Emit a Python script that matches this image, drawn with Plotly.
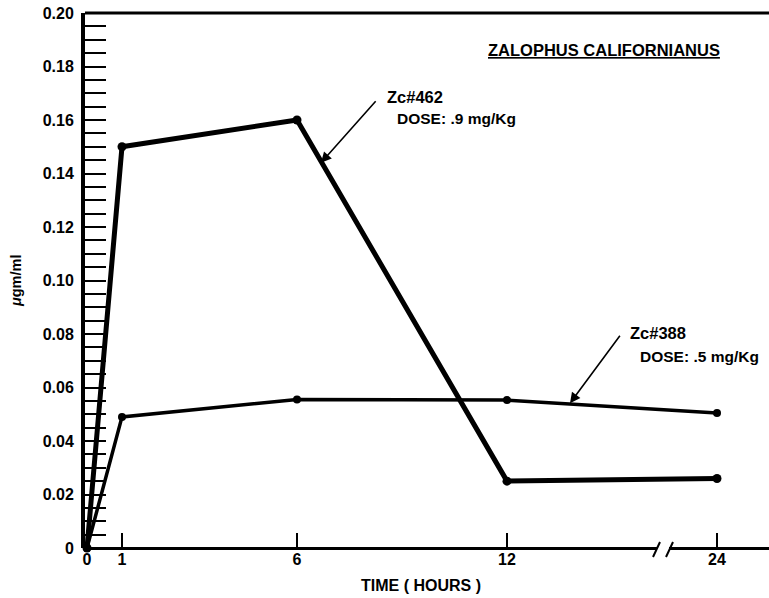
import plotly.graph_objects as go

# ---- data ----
hours = [0, 1, 6, 12, 24]
zc462 = [0.0, 0.150, 0.160, 0.025, 0.026]
zc388 = [0.0, 0.049, 0.0555, 0.0553, 0.0505]
x_tick_hours = [0, 1, 6, 12, 24]
x_tick_labels = ["0", "1", "6", "12", "24"]
y_tick_vals = [0, 0.02, 0.04, 0.06, 0.08, 0.10, 0.12, 0.14, 0.16, 0.18, 0.20]
y_tick_labels = ["0", "0.02", "0.04", "0.06", "0.08", "0.10", "0.12", "0.14", "0.16", "0.18", "0.20"]

BREAK_SHIFT = 6  # axis broken between 12 and 24 h


def xpos(h):
    return h if h <= 12 else h - BREAK_SHIFT


FONT = "Liberation Sans"
W, H = 769, 598
ML, MR, MT, MB = 85, 0, 13, 50
PX_PER_H = 35.0
X0 = -2 / PX_PER_H
X1 = X0 + (W - ML - MR) / PX_PER_H

fig = go.Figure()
fig.add_trace(go.Scatter(
    x=[xpos(h) for h in hours], y=zc388, mode="lines+markers",
    line=dict(color="black", width=3.5), marker=dict(color="black", size=8),
    cliponaxis=False, showlegend=False))
fig.add_trace(go.Scatter(
    x=[xpos(h) for h in hours], y=zc462, mode="lines+markers",
    line=dict(color="black", width=5), marker=dict(color="black", size=9),
    cliponaxis=False, showlegend=False))

pw = W - ML - MR
ph = H - MT - MB


def px_to_paper_x(px):
    return (px - ML) / pw


def py_to_paper_y(py):
    return (H - MB - py) / ph


shapes = []
# top border
shapes.append(dict(type="line", xref="paper", yref="paper", x0=0, x1=1, y0=1, y1=1,
                   line=dict(color="black", width=3)))
# x axis with break
shapes.append(dict(type="line", xref="paper", yref="paper", x0=0, x1=px_to_paper_x(657),
                   y0=py_to_paper_y(548.5), y1=py_to_paper_y(548.5), line=dict(color="black", width=3)))
shapes.append(dict(type="line", xref="paper", yref="paper", x0=px_to_paper_x(669), x1=1,
                   y0=py_to_paper_y(548.5), y1=py_to_paper_y(548.5), line=dict(color="black", width=3)))
for a, b in [(653, 660), (666, 673)]:
    shapes.append(dict(type="line", xref="paper", yref="paper",
                       x0=px_to_paper_x(a), y0=py_to_paper_y(557),
                       x1=px_to_paper_x(b), y1=py_to_paper_y(542),
                       line=dict(color="black", width=2)))

annotations = []
# arrows
annotations.append(dict(x=(321 - 87) / PX_PER_H, y=(548 - 162) / 2680, xref="x", yref="y",
                        ax=56, ay=-63, axref="pixel", ayref="pixel", text="", showarrow=True,
                        arrowhead=2, arrowsize=1.3, arrowwidth=1.6, arrowcolor="black"))
annotations.append(dict(x=(570 - 87) / PX_PER_H, y=(548 - 403) / 2680, xref="x", yref="y",
                        ax=51, ay=-69, axref="pixel", ayref="pixel", text="", showarrow=True,
                        arrowhead=2, arrowsize=1.3, arrowwidth=1.6, arrowcolor="black"))


def txt(px, py, s, size, bold=True):
    annotations.append(dict(x=px_to_paper_x(px), y=py_to_paper_y(py), xref="paper", yref="paper",
                            xanchor="left", yanchor="middle", showarrow=False,
                            text=f"<b>{s}</b>" if bold else s,
                            font=dict(family=FONT, size=size, color="black")))


txt(385, 97, "Zc#462", 16.5)
txt(395, 118, "DOSE: .9 mg/Kg", 15.5)
txt(628, 333, "Zc#388", 16.5)
txt(638, 356, "DOSE: .5 mg/Kg", 15.5)
txt(486, 50, "<u>ZALOPHUS CALIFORNIANUS</u>", 16.5)

# axis titles
annotations.append(dict(x=px_to_paper_x(421), y=py_to_paper_y(585), xref="paper", yref="paper",
                        xanchor="center", yanchor="middle", showarrow=False,
                        text="<b>TIME ( HOURS )</b>", font=dict(family=FONT, size=16, color="black")))
annotations.append(dict(x=px_to_paper_x(16), y=py_to_paper_y(281), xref="paper", yref="paper",
                        xanchor="center", yanchor="middle", showarrow=False, textangle=-90,
                        text="<b><i>μ</i>gm/ml</b>", font=dict(family=FONT, size=14.5, color="black")))

fig.update_layout(
    width=W, height=H, margin=dict(l=ML, r=MR, t=MT, b=MB),
    plot_bgcolor="white", paper_bgcolor="white",
    shapes=shapes, annotations=annotations, showlegend=False,
    xaxis=dict(range=[X0, X1], showgrid=False, zeroline=False, showline=False,
               tickmode="array", tickvals=[xpos(h) for h in x_tick_hours],
               ticktext=[f"<b>{t}</b>" for t in x_tick_labels],
               ticks="inside", ticklen=15, tickwidth=2, tickcolor="black",
               tickfont=dict(family=FONT, size=16, color="black")),
    yaxis=dict(range=[0, 0.2], showgrid=False, zeroline=False, showline=True,
               linecolor="black", linewidth=4, mirror=False,
               tickmode="array", tickvals=y_tick_vals, ticktext=[f"<b>{t}</b>" for t in y_tick_labels],
               ticks="inside", ticklen=21, tickwidth=2, tickcolor="black",
               ticklabelstandoff=4,
               tickfont=dict(family=FONT, size=16, color="black"),
               minor=dict(dtick=0.005, ticks="inside", ticklen=21, tickwidth=2, tickcolor="black")),
)

fig.write_html("out.html", config={"displayModeBar": False},
               post_script="document.body.style.margin='0';")
